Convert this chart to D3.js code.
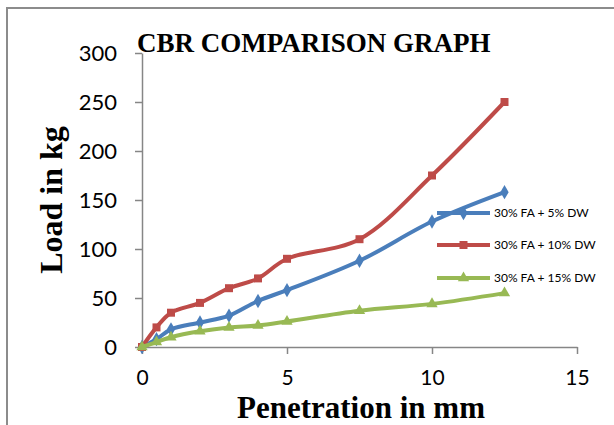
<!DOCTYPE html>
<html>
<head>
<meta charset="utf-8">
<script src="https://cdn.jsdelivr.net/npm/d3@7"></script>
<style>
body{margin:0;background:#fff;}
svg{display:block;}
</style>
</head>
<body>
<main></main>
<script>
// penetration (mm) readings
var penetration = [0, 0.5, 1, 2, 3, 4, 5, 7.5, 10, 12.5];
var load5 = [0, 8, 18, 25, 32, 47, 58, 88, 128, 158];
var load10 = [0, 20, 35, 45, 60, 70, 90, 110, 175, 250];
var load15 = [0, 5, 10, 16, 20, 22, 26, 37, 44, 55];
var seriesNames = ["30% FA + 5% DW", "30% FA + 10% DW", "30% FA + 15% DW"];
var xTicks = [0, 5, 10, 15];
var yTicks = [0, 50, 100, 150, 200, 250, 300];

var width = 614, height = 425;
var svg = d3.select("main").append("svg")
    .attr("width", width)
    .attr("height", height);

// outer frame of chart area
svg.append("rect")
    .attr("x", 7).attr("y", 8)
    .attr("width", 640).attr("height", 460)
    .style("fill", "none")
    .style("stroke", "#8c8c8c")
    .style("stroke-width", 2);

const xScale = d3.scaleLinear().domain([0, 15]).range([142, 577]);
const yScale = d3.scaleLinear().domain([0, 300]).range([347, 53]);

var x_axis = d3.axisBottom(xScale).tickValues(xTicks).tickSize(7).tickSizeOuter(0);
var gx = svg.append("g")
    .attr("transform", "translate(0," + yScale(0) + ")")
    .call(x_axis);

var y_axis = d3.axisLeft(yScale).tickValues(yTicks).tickSize(7).tickSizeOuter(0);
var gy = svg.append("g")
    .attr("transform", "translate(" + xScale(0) + ",0)")
    .call(y_axis);

[gx, gy].forEach(g => {
    g.select(".domain").style("stroke", "#868686").style("stroke-width", 1.5);
    g.selectAll(".tick line").style("stroke", "#868686").style("stroke-width", 1.5);
    g.selectAll("text")
     .style("font-family", "Lato, 'Open Sans', sans-serif")
     .style("font-size", "22px")
     .style("fill", "#000");
});
gx.selectAll("text").attr("y", 38).attr("dy", null).style("font-size", "21px");
gy.selectAll("text").attr("x", -25).attr("dy", "0.35em");

// titles
svg.append("text")
    .attr("x", 137).attr("y", 52)
    .text("CBR COMPARISON GRAPH")
    .style("font-family", "'Liberation Serif', 'Times New Roman', serif")
    .style("font-weight", "bold")
    .style("font-size", "27px");

svg.append("text")
    .attr("x", 361).attr("y", 418)
    .attr("text-anchor", "middle")
    .text("Penetration in mm")
    .style("font-family", "'Liberation Serif', 'Times New Roman', serif")
    .style("font-weight", "bold")
    .style("font-size", "31px");

svg.append("text")
    .attr("transform", "translate(62,200) rotate(-90)")
    .attr("text-anchor", "middle")
    .text("Load in kg")
    .style("font-family", "'Liberation Serif', 'Times New Roman', serif")
    .style("font-weight", "bold")
    .style("font-size", "32px");

var series = [
    {name: seriesNames[0], values: load5, color: "#4a7ebb", symbol: d3.symbolDiamond, size: 60},
    {name: seriesNames[1], values: load10, color: "#be4b48", symbol: d3.symbolSquare, size: 64},
    {name: seriesNames[2], values: load15, color: "#98b954", symbol: d3.symbolTriangle, size: 55}
];

var line = d3.line()
    .x((d, i) => xScale(penetration[i]))
    .y(d => yScale(d))
    .curve(d3.curveCatmullRom.alpha(0.5));

series.forEach(s => {
    svg.append("path")
        .datum(s.values)
        .attr("d", line)
        .style("fill", "none")
        .style("stroke", s.color)
        .style("stroke-width", 4)
        .style("stroke-linejoin", "round");
    svg.selectAll(null)
        .data(s.values)
        .enter()
        .append("path")
        .attr("d", d3.symbol().type(s.symbol).size(s.size))
        .attr("transform", (d, i) => "translate(" + xScale(penetration[i]) + "," + yScale(d) + ")")
        .style("fill", s.color);
});

// legend
var legendY = [213, 245, 278];
series.forEach((s, i) => {
    var g = svg.append("g").attr("transform", "translate(437," + legendY[i] + ")");
    g.append("line")
        .attr("x1", 0).attr("x2", 53)
        .style("stroke", s.color)
        .style("stroke-width", 4);
    g.append("path")
        .attr("d", d3.symbol().type(s.symbol).size(s.size))
        .attr("transform", "translate(26.5,0)")
        .style("fill", s.color);
    g.append("text")
        .attr("x", 57).attr("dy", "0.35em")
        .text(s.name)
        .style("font-family", "Lato, 'Open Sans', sans-serif")
        .style("font-size", "12px")
        .style("fill", "#000");
});
</script>
</body>
</html>
